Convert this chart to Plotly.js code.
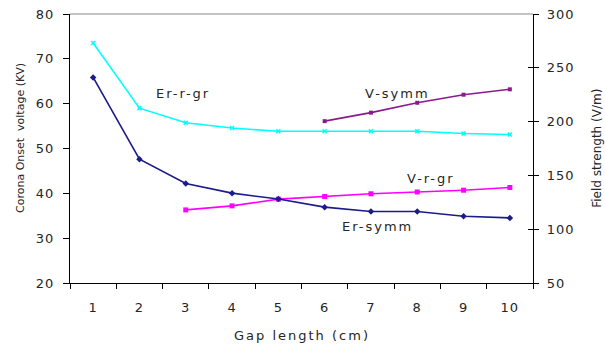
<!DOCTYPE html>
<html>
<head>
<meta charset="utf-8">
<script src="https://cdn.plot.ly/plotly-3.0.1.min.js"></script>
<style>
  html, body { margin: 0; padding: 0; background: #fff; }
  #chart { width: 605px; height: 344px; }
  /* wide, airy lettering for tick labels and horizontal captions */
  #chart .xtick text, #chart .ytick text, #chart .y2tick text { letter-spacing: 1px; }
  #chart .annotation text { letter-spacing: 2px; }
  #chart .annotation[data-index="0"] text,
  #chart .annotation[data-index="1"] text { letter-spacing: 0; }
</style>
</head>
<body>
<div id="chart"></div>
<script>
// Gap length categories (cm)
const gapLength = ['1', '2', '3', '4', '5', '6', '7', '8', '9', '10'];

// Field strength (V/m), right axis
const erRodGround = [273, 212.5, 199, 194, 191, 191, 191, 191, 189, 188];
const erSymm = [241, 165, 142.5, 133.5, 128, 120.5, 116.5, 116.5, 112, 110.5];

// Corona onset voltage (kV), left axis
const vRodGroundGap = gapLength.slice(2);
const vRodGround = [36.3, 37.2, 38.7, 39.3, 39.9, 40.3, 40.7, 41.3];
const vSymmGap = gapLength.slice(5);
const vSymm = [56.1, 58.0, 60.2, 62.0, 63.2];

const leftTicks = [20, 30, 40, 50, 60, 70, 80];
const rightTicks = [50, 100, 150, 200, 250, 300];

const FONT = 'DejaVu Sans, Arial, sans-serif';
const TXT = '#262626';

const traces = [
  {
    x: gapLength, y: erRodGround, name: 'Er-r-gr', yaxis: 'y2',
    type: 'scatter', mode: 'lines+markers',
    line: { color: '#00FFFF', width: 1.6 },
    marker: { symbol: 'x-thin-open', size: 4, line: { color: '#00E5FF', width: 1.5 } }
  },
  {
    x: gapLength, y: erSymm, name: 'Er-symm', yaxis: 'y2',
    type: 'scatter', mode: 'lines+markers',
    line: { color: '#1B1B8A', width: 1.6 },
    marker: { symbol: 'diamond', size: 5, color: '#1B1B8A' }
  },
  {
    x: vRodGroundGap, y: vRodGround, name: 'V-r-gr', yaxis: 'y',
    type: 'scatter', mode: 'lines+markers',
    line: { color: '#FF00FF', width: 1.6 },
    marker: { symbol: 'square', size: 5, color: '#FF00FF' }
  },
  {
    x: vSymmGap, y: vSymm, name: 'V-symm', yaxis: 'y',
    type: 'scatter', mode: 'lines+markers',
    line: { color: '#8B1A8B', width: 1.6 },
    marker: { symbol: 'square', size: 4, color: '#8B1A8B' }
  }
];

const tickFont = { family: FONT, size: 13, color: TXT };
const labelFont = { family: FONT, size: 13, color: TXT };

const layout = {
  width: 605, height: 344,
  margin: { l: 70, r: 72, t: 14, b: 61 },
  paper_bgcolor: '#fff', plot_bgcolor: '#fff',
  showlegend: false,
  font: { family: FONT, size: 12, color: TXT },
  xaxis: {
    type: 'category', categoryorder: 'array', categoryarray: gapLength,
    range: [-0.5, 9.5], tickson: 'boundaries',
    ticks: 'outside', ticklen: 5, tickcolor: '#000', tickwidth: 1,
    showline: true, linecolor: '#000', linewidth: 1.2,
    showgrid: false, zeroline: false, tickfont: tickFont, ticklabelstandoff: 12
  },
  yaxis: {
    range: [20, 80], tickvals: leftTicks,
    ticks: 'outside', ticklen: 6, tickcolor: '#000',
    showline: true, linecolor: '#000', linewidth: 1.2,
    showgrid: false, zeroline: false, tickfont: tickFont, ticklabelstandoff: 6
  },
  yaxis2: {
    overlaying: 'y', side: 'right', range: [50, 300], tickvals: rightTicks,
    ticks: 'outside', ticklen: 5, tickcolor: '#000',
    showline: true, linecolor: '#000', linewidth: 1.2,
    showgrid: false, zeroline: false, tickfont: tickFont, ticklabelstandoff: 5
  },
  yaxis3: {
    overlaying: 'y', side: 'right', range: [50, 300], tickvals: rightTicks,
    ticks: 'inside', ticklen: 5, tickcolor: '#000', showticklabels: false,
    showline: false, showgrid: false, zeroline: false
  },
  shapes: [
    { type: 'line', xref: 'paper', yref: 'paper', x0: 0, x1: 1, y0: 1, y1: 1,
      line: { color: '#888', width: 1 } }
  ],
  annotations: [
    { text: 'Corona Onset  voltage (KV)', xref: 'paper', yref: 'paper',
      x: -0.108, y: 0.539, textangle: -90, showarrow: false,
      xanchor: 'center', yanchor: 'middle', font: { family: FONT, size: 11, color: TXT } },
    { text: 'Field strength (V/m)', xref: 'paper', yref: 'paper',
      x: 1.138, y: 0.502, textangle: -90, showarrow: false,
      xanchor: 'center', yanchor: 'middle', font: { family: FONT, size: 12, color: TXT } },
    { text: 'Gap length (cm)', xref: 'paper', yref: 'paper',
      x: 0.501, y: -0.196, showarrow: false,
      xanchor: 'center', yanchor: 'middle', font: labelFont },
    { text: 'Er-r-gr', xref: 'x', yref: 'y', x: 1.96, y: 62.2, showarrow: false, font: labelFont },
    { text: 'V-symm', xref: 'x', yref: 'y', x: 6.58, y: 62.2, showarrow: false, font: labelFont },
    { text: 'V-r-gr', xref: 'x', yref: 'y', x: 7.30, y: 43.4, showarrow: false, font: labelFont },
    { text: 'Er-symm', xref: 'x', yref: 'y', x: 6.15, y: 32.5, showarrow: false, font: labelFont }
  ]
};

// empty trace binds the inside-tick overlay axis on the right
traces.push({ x: [gapLength[0]], y: [null], yaxis: 'y3', type: 'scatter', mode: 'markers',
  hoverinfo: 'skip', showlegend: false });

Plotly.newPlot('chart', traces, layout, { staticPlot: true, displayModeBar: false });
</script>
</body>
</html>
